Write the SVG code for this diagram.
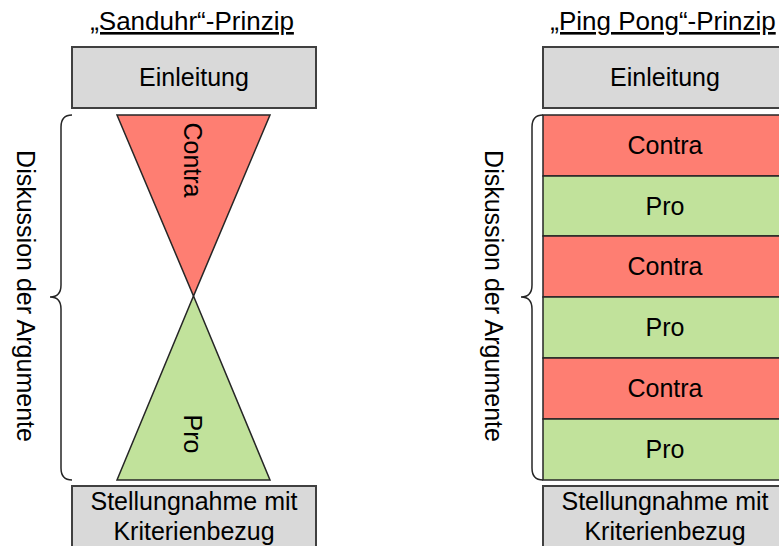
<svg xmlns="http://www.w3.org/2000/svg" width="779" height="546" viewBox="0 0 779 546">
<style>
text{font-family:"Liberation Sans",Arial,sans-serif;font-size:25px;fill:#000;text-anchor:middle}
.box{fill:#d9d9d9;stroke:#404040;stroke-width:2}
.red{fill:#fe7e72;stroke:#262626;stroke-width:1.5}
.green{fill:#c1e29b;stroke:#262626;stroke-width:1.5}
.brace{fill:none;stroke:#262626;stroke-width:1.5}
.title{text-decoration:underline;font-size:26px}
</style>
<rect width="779" height="546" fill="#fff"/>
<g id="title-left"><text class="title" x="192" y="30">„Sanduhr“-Prinzip</text></g>
<g id="title-right"><text class="title" x="663" y="30">„Ping Pong“-Prinzip</text></g>

<g id="einleitung-left"><rect class="box" x="72" y="47" width="244" height="61"/><text x="194" y="86">Einleitung</text></g>
<g id="einleitung-right"><rect class="box" x="543" y="47" width="244" height="61"/><text x="665" y="86">Einleitung</text></g>

<g id="contra-triangle"><polygon class="red" points="117,115 270,115 193.5,296"/><text transform="translate(193,160) rotate(90)" dy="0.35em">Contra</text></g>
<g id="pro-triangle"><polygon class="green" points="193.5,296 270,480 117,480"/><text transform="translate(193,434) rotate(90)" dy="0.35em">Pro</text></g>

<g id="pp-contra-1"><rect class="red" x="543" y="115" width="244" height="61"/><text x="665" y="154">Contra</text></g>
<g id="pp-pro-1"><rect class="green" x="543" y="176" width="244" height="60"/><text x="665" y="215">Pro</text></g>
<g id="pp-contra-2"><rect class="red" x="543" y="236" width="244" height="61"/><text x="665" y="275">Contra</text></g>
<g id="pp-pro-2"><rect class="green" x="543" y="297" width="244" height="61"/><text x="665" y="336">Pro</text></g>
<g id="pp-contra-3"><rect class="red" x="543" y="358" width="244" height="61"/><text x="665" y="397">Contra</text></g>
<g id="pp-pro-3"><rect class="green" x="543" y="419" width="244" height="61"/><text x="665" y="458">Pro</text></g>

<g id="stellung-left"><rect class="box" x="72" y="486" width="244" height="64"/><text x="194" y="510">Stellungnahme mit</text><text x="194" y="540">Kriterienbezug</text></g>
<g id="stellung-right"><rect class="box" x="543" y="486" width="244" height="64"/><text x="665" y="510">Stellungnahme mit</text><text x="665" y="540">Kriterienbezug</text></g>

<g id="connectors">
<path class="brace" d="M72,115 Q61,115 61,127 L61,285 Q61,297 50,297 Q61,297 61,309 L61,468 Q61,480 72,480"/>
<path class="brace" d="M543,115 Q532,115 532,127 L532,285 Q532,297 521,297 Q532,297 532,309 L532,468 Q532,480 543,480"/>
</g>
<g id="label-left"><text transform="translate(26,296) rotate(90)" dy="0.35em">Diskussion der Argumente</text></g>
<g id="label-right"><text transform="translate(494,296) rotate(90)" dy="0.35em">Diskussion der Argumente</text></g>
</svg>
